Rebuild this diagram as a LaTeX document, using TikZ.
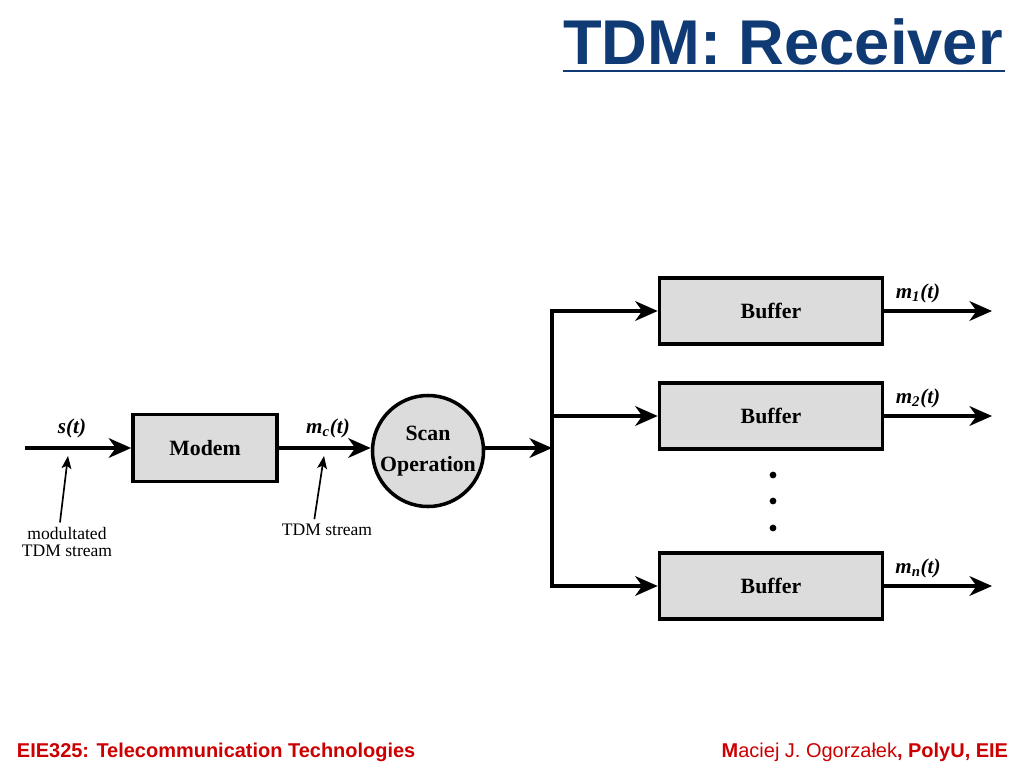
\documentclass[tikz,border=0pt]{standalone}
\usepackage{fontspec}
\setmainfont{Liberation Serif}
\newfontfamily\slidefont{Liberation Sans}
\usepackage{tikz}
\usetikzlibrary{arrows.meta}
\definecolor{titleblue}{RGB}{16,58,115}
\definecolor{footred}{RGB}{204,0,0}
\definecolor{boxgray}{RGB}{220,220,220}
\tikzset{
    blk/.style={draw, line width=2.5pt, fill=boxgray, font=\fontsize{15.5}{17}\selectfont\bfseries},
    sig/.style={line width=2.5pt, -{Stealth[length=16pt,width=14pt,inset=5pt]}},
    note/.style={line width=1.2pt, -{Stealth[length=9pt,width=7pt,inset=2pt]}},
    lbl/.style={font=\fontsize{15}{17}\selectfont\bfseries\itshape},
    ann/.style={font=\fontsize{12.5}{14}\selectfont, align=center}
}

\begin{document}
\begin{tikzpicture}[x=0.025cm, y=-0.025cm]
                \useasboundingbox (0,0) rectangle (1024,768);
                % title and footer
                \node[anchor=base, text=titleblue, font=\slidefont\fontsize{45}{50}\selectfont\bfseries] (title) at (783,65) {TDM: Receiver};
                \draw[titleblue, line width=2pt] (563,71) -- (1005,71);
                \node[anchor=base west, text=footred, font=\slidefont\fontsize{14.2}{16}\selectfont\bfseries] (course) at (12,757) {EIE325: Telecommunication Technologies};
                \node[anchor=base east, text=footred, font=\slidefont\fontsize{14.2}{16}\selectfont] (author) at (1013,757) {\textbf{M}aciej J. Ogorzałek\textbf{, PolyU, EIE}};
                % blocks
                \node[blk, minimum width=3.6cm, minimum height=1.675cm] (modem) at (205,448) {Modem};
                \node[blk, circle, minimum size=2.775cm, inner sep=0pt, align=center] (scan) at (428,451) {Scan\\[5pt]Operation};
                \foreach \name/\y in {buf1/311, buf2/416, bufn/586}
                    \node[blk, minimum width=5.575cm, minimum height=1.65cm] (\name) at (771,\y) {Buffer};
                \coordinate (in) at (25,448);
                \coordinate (jn) at (552,448);
                % connectors
                \draw[sig] (in) -- (modem);
                \draw[sig] (modem) -- (scan.west |- modem);
                \draw[sig] (scan.east |- jn) -- (jn);
                \draw[line width=2.5pt, line cap=rect] (jn |- buf1) -- (jn |- bufn);
                \foreach \name in {buf1, buf2, bufn} {
                    \draw[sig] (jn |- \name) -- (\name);
                    \coordinate (o\name) at (992,0 |- \name);
                    \draw[sig] (\name) -- (o\name);
                }
                \foreach \y in {475,501,528} \fill (773,\y) circle (2.4pt);
                % signal labels
                \node[lbl] (st) at (72,428) {s(t)};
                \node[lbl] (mct) at (328,428) {m\textsubscript{c}(t)};
                \node[lbl] (m1t) at (918,293) {m\textsubscript{1}(t)};
                \node[lbl] (m2t) at (918,398) {m\textsubscript{2}(t)};
                \node[lbl] (mnt) at (918,568) {m\textsubscript{n}(t)};
                % annotations
                \node[ann] (ann1) at (67,542) {modultated\\[-2pt]TDM stream};
                \node[ann] (ann2) at (327,530) {TDM stream};
                \coordinate (p1) at (68,456);
                \coordinate (p2) at (324,456);
                \draw[note] ([xshift=-5pt]ann1.north) -- (p1);
                \draw[note] ([xshift=-9pt]ann2.north) -- (p2);
            \end{tikzpicture}
\end{document}
